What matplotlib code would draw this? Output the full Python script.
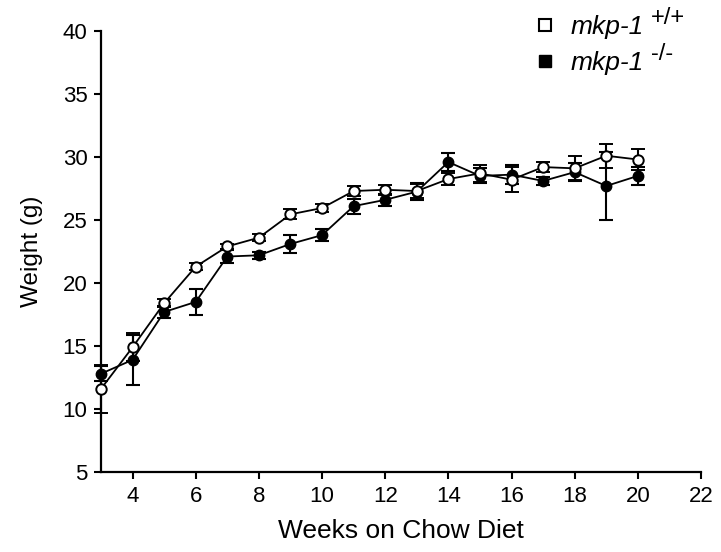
import numpy as np
import matplotlib
matplotlib.use("Agg")
import matplotlib.pyplot as plt
from matplotlib.lines import Line2D

plt.rcParams['font.family'] = ['Liberation Sans', 'DejaVu Sans']

# weeks on chow diet
weeks = [3, 4, 5, 6, 7, 8, 9, 10, 11, 12, 13, 14, 15, 16, 17, 18, 19, 20]

# mkp-1 +/+ (open circles)
wt_mean = [11.6, 14.9, 18.4, 21.3, 22.9, 23.6, 25.45, 25.95, 27.3, 27.4,
           27.3, 28.25, 28.7, 28.2, 29.2, 29.1, 30.1, 29.8]
wt_sem = [1.9, 1.1, 0.3, 0.3, 0.2, 0.25, 0.4, 0.3, 0.4, 0.4,
          0.55, 0.5, 0.65, 1.0, 0.4, 0.95, 0.95, 0.8]

# mkp-1 -/- (filled circles)
ko_mean = [12.8, 13.9, 17.7, 18.5, 22.1, 22.2, 23.1, 23.8, 26.1, 26.6,
           27.25, 29.6, 28.5, 28.6, 28.1, 28.8, 27.7, 28.5]
ko_sem = [0.6, 2.0, 0.5, 1.05, 0.5, 0.3, 0.7, 0.5, 0.6, 0.45,
          0.7, 0.7, 0.6, 0.75, 0.3, 0.7, 2.7, 0.7]

xticks = [4, 6, 8, 10, 12, 14, 16, 18, 20, 22]
yticks = [5, 10, 15, 20, 25, 30, 35, 40]

fig = plt.figure(figsize=(7.21, 5.52), dpi=100)
ax = fig.add_axes([101/721, 1-472/552, 600/721, 441/552])

ax.errorbar(weeks, ko_mean, yerr=ko_sem, color='black', lw=1.3,
            marker='o', ms=7.5, mfc='black', mec='black',
            capsize=4.7, capthick=1.5, elinewidth=1.5, zorder=2, clip_on=False)
ax.errorbar(weeks, wt_mean, yerr=wt_sem, color='black', lw=1.3,
            marker='o', ms=7.5, mfc='white', mec='black', mew=1.4,
            capsize=4.7, capthick=1.5, elinewidth=1.5, zorder=3, clip_on=False)

ax.set_xlim(3, 22)
ax.set_ylim(5, 40)
ax.set_xticks(xticks)
ax.set_yticks(yticks)
for s in ['top', 'right']:
    ax.spines[s].set_visible(False)
for s in ['left', 'bottom']:
    ax.spines[s].set_linewidth(1.6)
ax.tick_params(direction='out', length=4.8, width=1.5, labelsize=16, pad=5)

ax.set_xlabel('Weeks on Chow Diet', fontsize=19, labelpad=9)
ax.set_ylabel('Weight (g)', fontsize=17.5, labelpad=14)

handles = [Line2D([], [], ls='none', marker='s', ms=8, mfc='white', mec='black', mew=1.5),
           Line2D([], [], ls='none', marker='s', ms=9, mfc='black', mec='black')]
leg = fig.legend(handles, ['mkp-1', 'mkp-1'], loc='upper left',
                 bbox_to_anchor=(532/721, 1-15/552), frameon=False,
                 borderpad=0, borderaxespad=0, handlelength=1.0,
                 handletextpad=0.45, labelspacing=0.45,
                 prop={'size': 19, 'style': 'italic'})

# superscripts placed after the legend text has been laid out
fig.canvas.draw()
inv = fig.transFigure.inverted()
for txt, sup in zip(leg.get_texts(), ['+/+', '-/-']):
    bb = txt.get_window_extent()
    x, y = inv.transform((bb.x1 + 7, bb.y0 + bb.height * 0.42))
    fig.text(x, y, sup, fontsize=17, ha='left', va='bottom')

fig.savefig('out.png', dpi=100)
